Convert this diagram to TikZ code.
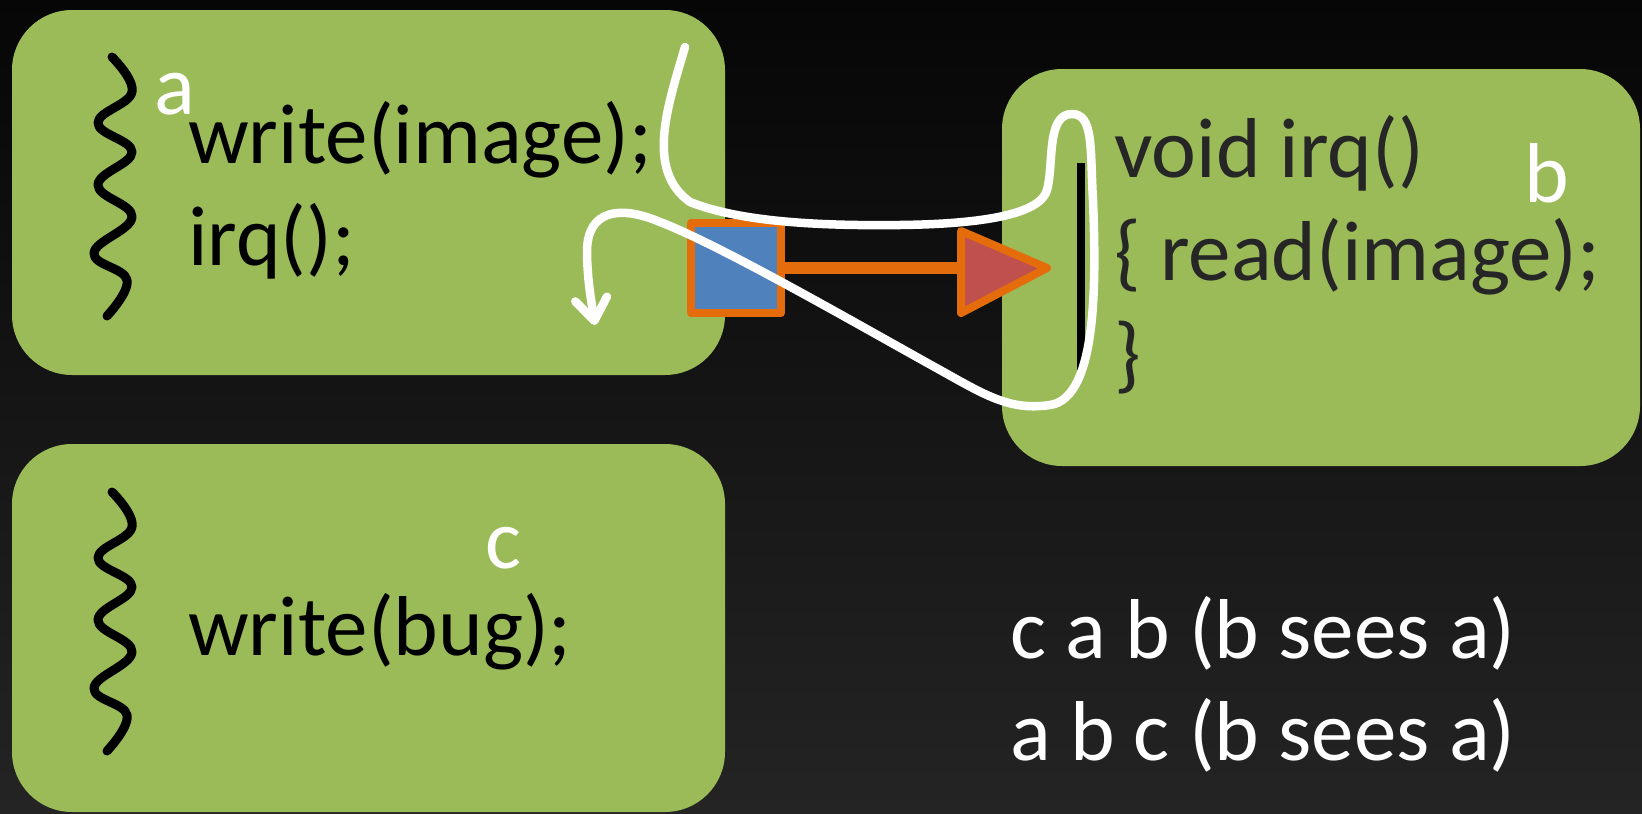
\documentclass[tikz,border=0pt]{standalone}
\usepackage{fontspec}
\setmainfont{Carlito}
\usetikzlibrary{arrows.meta}
\definecolor{boxgreen}{HTML}{9BBB59}
\definecolor{sqblue}{HTML}{4F81BD}
\definecolor{trired}{HTML}{C0504D}
\definecolor{edgeorange}{HTML}{E46C0A}
\definecolor{codegray}{HTML}{262626}
\definecolor{bgtop}{HTML}{060606}
\definecolor{bgbottom}{HTML}{242424}
\begin{document}
\begin{tikzpicture}[x=1pt,y=-1pt,
  greenbox/.style={fill=boxgreen, rounded corners=60pt, inner sep=0pt, draw=none},
  codetext/.style={anchor=base west, inner sep=0pt, font=\fontsize{85}{102}\selectfont},
  tag/.style={anchor=base west, inner sep=0pt, text=white, font=\fontsize{85}{102}\selectfont},
  squiggle/.style={line width=9pt, line cap=round, line join=round, black},
  trace/.style={white, line width=8.5pt, line cap=round, line join=round},
  shapeedge/.style={draw=edgeorange, line width=8pt, line join=round}]

% background
\useasboundingbox (0,0) rectangle (1642,814);
\shade[top color=bgtop, bottom color=bgbottom] (0,0) rectangle (1642,814);

% the three green panels
\node[greenbox, minimum width=713pt, minimum height=365pt] (boxa) at (368.5,192.5) {};
\node[greenbox, minimum width=638pt, minimum height=397pt] (boxb) at (1321,267.5) {};
\node[greenbox, minimum width=713pt, minimum height=368pt] (boxc) at (368.5,628) {};

% panel a
\node[codetext] (wimg) at (188,163) {write(image);};
\node[codetext] (irqcall) at (188,265) {irq();};
\node[tag] (laba) at (154,114) {a};

% panel b
\node[codetext, text=codegray] (voidirq) at (1114,177) {void irq()};
\node[codetext, text=codegray] (readimg) at (1114,280) {\{ read(image);};
\node[codetext, text=codegray] (closebr) at (1114,382) {\}};
\node[tag] (labb) at (1524,202) {b};

% panel c
\node[codetext] (wbug) at (188,655) {write(bug);};
\node[tag] (labc) at (485,568) {c};

% orderings
\node[tag] (ord1) at (1010,658) {c a b (b sees a)};
\node[tag] (ord2) at (1010,760) {a b c (b sees a)};

% thread squiggles
\draw[squiggle] plot[smooth, tension=0.7] coordinates
  {(112,57) (132,92) (98,123) (132,152) (98,185) (132,217) (94,253) (127,280) (107,316)};
\draw[squiggle] plot[smooth, tension=0.7] coordinates
  {(112,492) (132,527) (98,558) (132,587) (98,620) (132,652) (94,688) (127,715) (107,751)};

% handler extent bar
\draw[line width=8pt, black] (1081,163) -- (1081,370);

% interrupt source, line and target
\node[shapeedge, fill=sqblue, minimum width=90pt, minimum height=90pt, inner sep=0pt] (sq) at (736,268) {};
\coordinate (tribase) at (961,268);
\draw[edgeorange, line width=12pt] (sq.east) -- (tribase);
\draw[shapeedge, fill=trired] (961,231) -- (1047,268) -- (961,313) -- cycle;

% execution trace
\draw[trace, -{Straight Barb[length=22pt,width=32pt,round]}]
  (685,47) .. controls (668,105) and (645,170) .. (690,202)
  .. controls (740,222) and (820,226) .. (900,225)
  .. controls (980,224) and (1040,215) .. (1047,190)
  .. controls (1054,165) and (1046,114) .. (1072,114)
  .. controls (1094,114) and (1090,150) .. (1093,200)
  .. controls (1096,280) and (1098,398) .. (1050,405)
  .. controls (1010,411) and (985,395) .. (940,370)
  .. controls (850,320) and (720,245) .. (660,222)
  .. controls (620,205) and (588,210) .. (587,250)
  .. controls (587,280) and (592,305) .. (595,325);
\end{tikzpicture}
\end{document}
